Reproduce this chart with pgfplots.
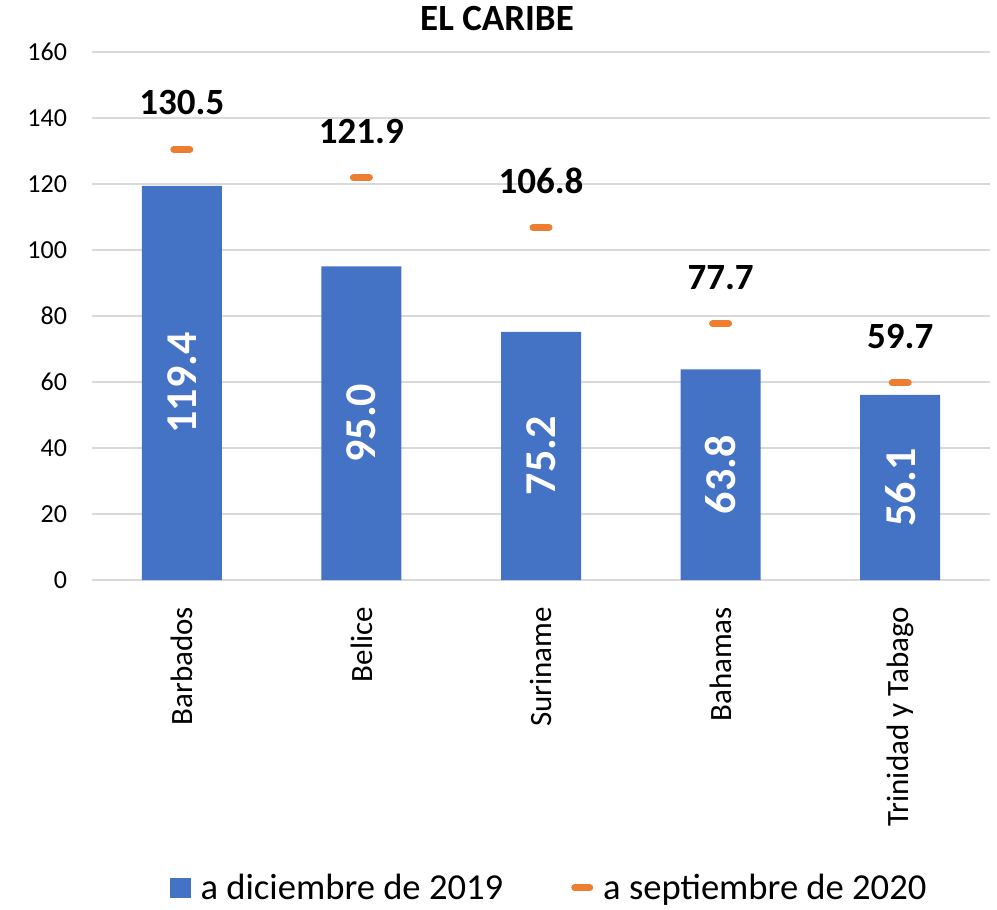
\documentclass[border=0pt]{standalone}
\usepackage{pgfplots}
\pgfplotsset{compat=1.18}
\usepackage{fontspec}
\setmainfont{Carlito}
\definecolor{barblue}{HTML}{4472C4}
\definecolor{dashorange}{HTML}{ED7D31}
\definecolor{gridgray}{HTML}{D9D9D9}
\begin{document}
\begin{tikzpicture}
\path[use as bounding box] (-46pt,-165pt) rectangle (452.5pt,290pt);
\begin{axis}[
  at={(0,0)}, anchor=south west,
  scale only axis, width=449pt, height=264pt,
  xmin=-0.5, xmax=4.5, ymin=0, ymax=160,
  ytick={0,20,...,160}, xtick={0,1,2,3,4},
  xticklabels={Barbados,Belice,Suriname,Bahamas,Trinidad y Tabago},
  x tick label style={rotate=90, anchor=east, font=\fontsize{15.5}{18}\selectfont, xshift=-10pt},
  y tick label style={font=\fontsize{13}{16}\selectfont, xshift=-9pt},
  /pgf/number format/assume math mode=true,
  ymajorgrids, grid style={gridgray, line width=0.7pt},
  axis line style={draw=none}, major tick length=0pt,
  title={EL CARIBE},
  title style={font=\fontsize{18.5}{22}\selectfont\bfseries, yshift=1pt, xshift=-22pt},
  legend style={at={(0.51,-0.583)}, anchor=center, draw=none, legend columns=2,
    font=\fontsize{18.3}{22}\selectfont,
    /tikz/every odd column/.append style={column sep=3pt},
    /tikz/every even column/.append style={column sep=32pt}},
  clip=false,
]
\addplot[ybar, bar width=40pt, fill=barblue, draw=none,
  legend image code/.code={\fill[barblue] (0pt,-5pt) rectangle (10.5pt,5pt);},
  visualization depends on=y \as \rawy,
  nodes near coords={\pgfmathprintnumber[fixed,fixed zerofill,precision=1,assume math mode=true]{\pgfplotspointmeta}},
  every node near coord/.append style={shift={(axis direction cs:0,-\rawy/2)}, rotate=90, anchor=center, white, font=\fontsize{22}{26}\selectfont\bfseries},
] coordinates {(0,119.4)(1,95.0)(2,75.2)(3,63.8)(4,56.1)};
\addlegendentry{a diciembre de 2019}
\addplot[only marks, mark=-, mark size=4pt, color=dashorange,
  mark options={line width=3.5pt, line cap=round},
  legend image code/.code={\draw[dashorange, line width=3.5pt, line cap=round] (1.75pt,0pt) -- (9.25pt,0pt);},
  nodes near coords={\pgfmathprintnumber[fixed,fixed zerofill,precision=1,assume math mode=true]{\pgfplotspointmeta}},
  every node near coord/.append style={black, anchor=south, yshift=12pt, font=\fontsize{18.5}{22}\selectfont\bfseries},
] coordinates {(0,130.5)(1,121.9)(2,106.8)(3,77.7)(4,59.7)};
\addlegendentry{a septiembre de 2020}
\end{axis}
\end{tikzpicture}
\end{document}
